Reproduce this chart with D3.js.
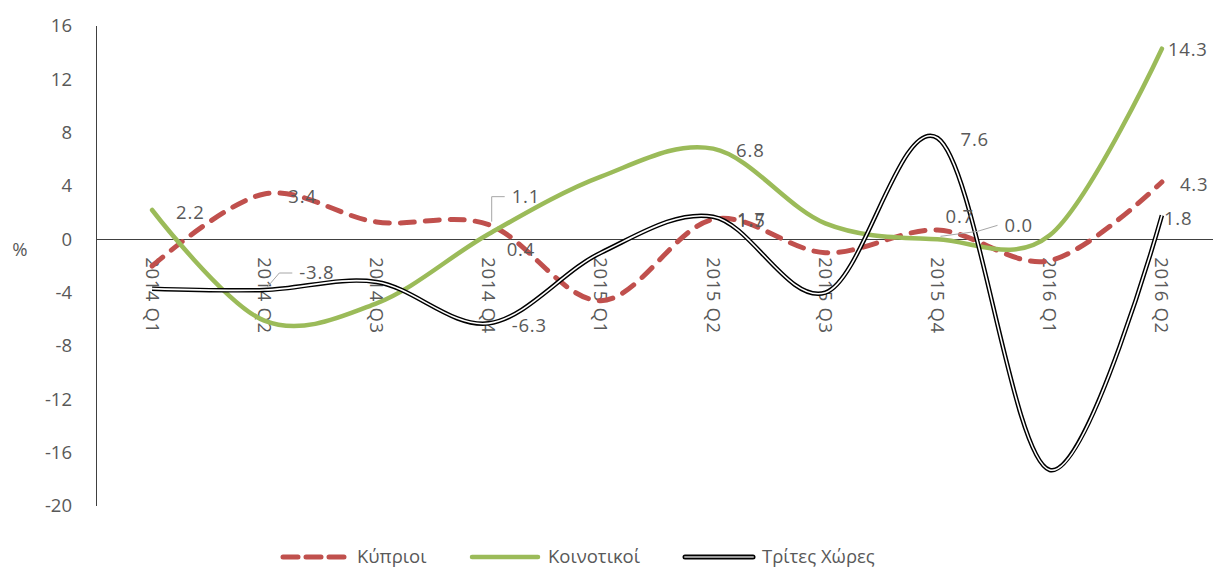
<!DOCTYPE html>
<html>
<head>
<meta charset="utf-8">
<script src="https://cdn.jsdelivr.net/npm/d3@7"></script>
<style>
body { margin: 0; background: #fff; }
text { font-family: "Open Sans", sans-serif; fill: #595959; }
</style>
</head>
<body>
<script>
var quarters = ["2014 Q1", "2014 Q2", "2014 Q3", "2014 Q4", "2015 Q1",
                "2015 Q2", "2015 Q3", "2015 Q4", "2016 Q1", "2016 Q2"];
var kyprioi    = [-2.0, 3.4, 1.3, 1.1, -4.6, 1.5, -1.0, 0.7, -1.6, 4.3];
var koinotikoi = [2.2, -6.1, -4.8, 0.4, 4.7, 6.8, 1.2, 0.0, 0.3, 14.3];
var trites     = [-3.7, -3.8, -3.2, -6.3, -1.0, 1.7, -4.0, 7.6, -17.3, 1.8];
var yTicks = [16, 12, 8, 4, 0, -4, -8, -12, -16, -20];
var seriesNames = ["Κύπριοι", "Κοινοτικοί", "Τρίτες Χώρες"];
// points that carry a value label (1 = shown)
var kyprioiShown    = [0, 1, 0, 1, 0, 1, 0, 1, 0, 1];
var koinotikoiShown = [1, 0, 0, 1, 0, 1, 0, 1, 0, 1];
var tritesShown     = [0, 1, 0, 1, 0, 1, 0, 1, 0, 1];

var w = 1222, h = 569;
var svg = d3.select("body").append("svg").attr("width", w).attr("height", h);

var x = d3.scaleBand().domain(quarters).range([96, 1218]);
var y = d3.scaleLinear().domain([-20, 16]).range([506, 26]);
function px(i) { return x(quarters[i]) + x.bandwidth() / 2; }

// y axis labels
svg.selectAll("text.ytick")
   .data(yTicks)
   .enter()
   .append("text")
   .attr("class", "ytick")
   .attr("x", 72)
   .attr("y", function(d) { return y(d); })
   .attr("dy", "0.35em")
   .attr("text-anchor", "end")
   .style("font-size", "18.5px")
   .text(function(d) { return d; });

svg.append("text").attr("x", 20).attr("y", y(-0.8)).attr("dy", "0.35em")
   .attr("text-anchor", "middle").style("font-size", "18.5px").text("%");

// axis lines
svg.append("line").attr("x1", 96.5).attr("x2", 96.5).attr("y1", y(16)).attr("y2", y(-20))
   .attr("stroke", "#404040").attr("stroke-width", 1);
svg.append("line").attr("x1", 96).attr("x2", 1213).attr("y1", Math.round(y(0)) + 0.5).attr("y2", Math.round(y(0)) + 0.5)
   .attr("stroke", "#404040").attr("stroke-width", 1);

// category labels, rotated
svg.selectAll("text.cat")
   .data(quarters)
   .enter()
   .append("text")
   .attr("class", "cat")
   .attr("transform", function(d) { return "translate(" + (x(d) + x.bandwidth() / 2) + "," + (y(0) + 18) + ") rotate(90)"; })
   .attr("dy", "0.35em")
   .style("font-size", "18.5px")
   .style("letter-spacing", "0.6px")
   .text(function(d) { return d; });

var line = d3.line()
    .x(function(d, i) { return px(i); })
    .y(function(d) { return y(d); })
    .curve(d3.curveCatmullRom.alpha(0.1));

var red = "#C0504D", green = "#9BBB59";

svg.append("path").attr("d", line(kyprioi)).attr("fill", "none")
   .attr("stroke", red).attr("stroke-width", 5).attr("stroke-linecap", "round")
   .attr("stroke-dasharray", "14,11");
svg.append("path").attr("d", line(koinotikoi)).attr("fill", "none")
   .attr("stroke", green).attr("stroke-width", 4.5).attr("stroke-linecap", "round");
svg.append("path").attr("d", line(trites)).attr("fill", "none")
   .attr("stroke", "#000").attr("stroke-width", 4.5);
svg.append("path").attr("d", line(trites)).attr("fill", "none")
   .attr("stroke", "#fff").attr("stroke-width", 1.6);

// data labels: offsets from the point [dx, dy], optional leader elbow
var labelPos = {
  "0-1": [24, 3], "0-3": [23, -28, [3, -28]], "0-5": [24, 1], "0-7": [8, -13], "0-9": [18, 3],
  "1-0": [24, 3], "1-3": [18, 16], "1-5": [23, 2], "1-7": [67, -14, [40, -8]], "1-9": [6, 1],
  "2-1": [35, -17, [15, -17]], "2-3": [23, 2], "2-5": [24, 3], "2-7": [23, 2], "2-9": [2, 3]
};
var allSeries = [kyprioi, koinotikoi, trites];
var allShown = [kyprioiShown, koinotikoiShown, tritesShown];
var labels = [];
allSeries.forEach(function(s, k) {
  s.forEach(function(v, i) {
    if (allShown[k][i]) labels.push({k: k, i: i, v: v, p: labelPos[k + "-" + i]});
  });
});

labels.filter(function(d) { return d.p.length > 2; }).forEach(function(d) {
  var x0 = px(d.i), y0 = y(d.v);
  var pts = [[x0 + 3, y0 - 3], [x0 + d.p[2][0], y0 + d.p[2][1]], [x0 + d.p[0] - 7, y0 + d.p[1]]];
  svg.append("path").attr("d", d3.line()(pts)).attr("fill", "none")
     .attr("stroke", "#A6A6A6").attr("stroke-width", 1);
});

svg.selectAll("text.lbl")
   .data(labels)
   .enter()
   .append("text")
   .attr("class", "lbl")
   .attr("x", function(d) { return px(d.i) + d.p[0]; })
   .attr("y", function(d) { return y(d.v) + d.p[1]; })
   .attr("dy", "0.35em")
   .style("font-size", "18.5px")
   .style("letter-spacing", "0.8px")
   .text(function(d) { return d.k == 1 && d.i == 8 ? "" : d.v.toFixed(1); });

// legend
var legX = [280, 470, 683];
var lg = svg.selectAll("g.leg")
   .data(seriesNames)
   .enter()
   .append("g")
   .attr("class", "leg")
   .attr("transform", function(d, i) { return "translate(" + legX[i] + ",557)"; });

lg.each(function(d, i) {
  var g = d3.select(this);
  if (i == 0) {
    g.append("line").attr("x1", 3).attr("x2", 68).attr("stroke", red).attr("stroke-width", 5)
     .attr("stroke-linecap", "round").attr("stroke-dasharray", "15,8");
  } else if (i == 1) {
    g.append("line").attr("x1", 2).attr("x2", 68).attr("stroke", green).attr("stroke-width", 4.5)
     .attr("stroke-linecap", "round");
  } else {
    g.append("line").attr("x1", 2).attr("x2", 70).attr("stroke", "#000").attr("stroke-width", 5)
     .attr("stroke-linecap", "round");
    g.append("line").attr("x1", 2).attr("x2", 70).attr("stroke", "#999").attr("stroke-width", 2)
     .attr("stroke-linecap", "round");
  }
  g.append("text").attr("x", i == 2 ? 79 : (i == 0 ? 77 : 78)).attr("dy", "0.35em")
   .style("font-size", "18.5px").text(d);
});
</script>
</body>
</html>
